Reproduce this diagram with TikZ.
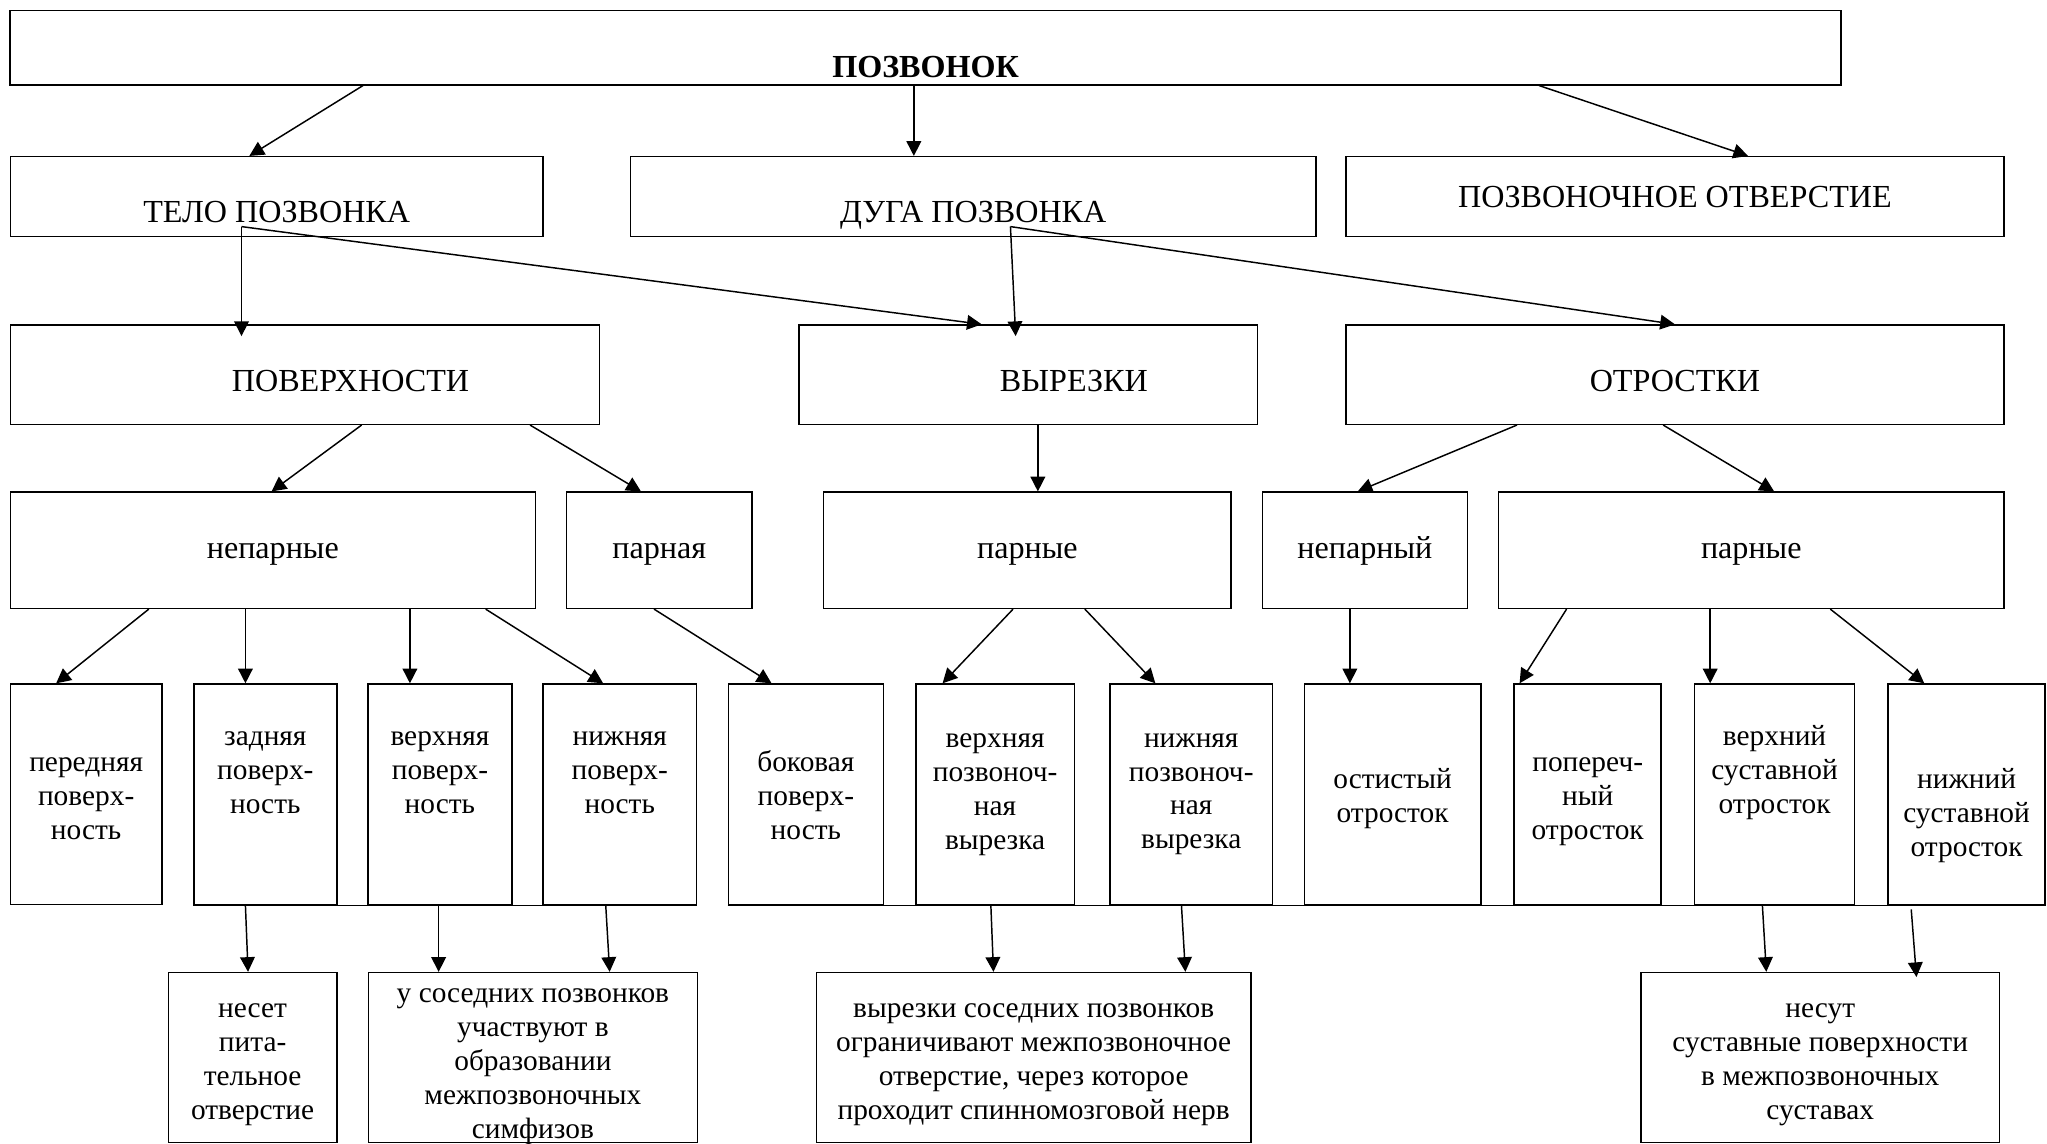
\documentclass[tikz,border=0pt]{standalone}
\usepackage{fontspec}
\setmainfont{Liberation Serif}
\usetikzlibrary{arrows.meta,calc}
\newcommand{\boxtop}{\rule{0pt}{16.5pt}}
\newcommand{\boxbot}{\rule[-4pt]{0pt}{4pt}}

\begin{document}
\begin{tikzpicture}[x=0.025cm,y=-0.025cm,line width=0.8pt,
  >={Triangle[length=8pt,width=8pt]},
  every node/.style={font=\fontsize{16}{18.5}\selectfont},
  box/.style={shape=rectangle,draw,align=center,inner sep=0pt},
  head/.style={box,font=\fontsize{17.5}{20}\selectfont,text depth=0pt},
  every to/.style={line width=1.1pt}]
\useasboundingbox (0,0) rectangle (1568,876);

\path (709,36.5) node (pozv) [head,text height=32pt,minimum width=35.05cm,minimum height=1.425cm] {\textbf{ПОЗВОНОК}};

\path (212,150.5) node (telo) [head,text height=28.5pt,minimum width=10.2cm,minimum height=1.525cm] {ТЕЛО ПОЗВОНКА};
\path (745.5,150.5) node (duga) [head,text height=28.5pt,minimum width=13.125cm,minimum height=1.525cm] {ДУГА ПОЗВОНКА};
\path (1283,150.5) node (otv) [head,text height=11.8pt,minimum width=12.6cm,minimum height=1.525cm] {ПОЗВОНОЧНОЕ ОТВЕРСТИЕ};

\path (233.5,287) node (pov) [head,text height=18.4pt,minimum width=11.275cm,minimum height=1.9cm] {\hspace*{1.75cm}ПОВЕРХНОСТИ};
\path (787.5,287) node (vyr) [head,text height=18.4pt,minimum width=8.775cm,minimum height=1.9cm] {\hspace*{1.75cm}ВЫРЕЗКИ};
\path (1283,287) node (otr) [head,text height=18.4pt,minimum width=12.6cm,minimum height=1.9cm] {ОТРОСТКИ};

\path (209,421.5) node (nep) [head,text height=8.6pt,minimum width=10.05cm,minimum height=2.225cm] {непарные};
\path (505,421.5) node (par) [head,text height=8.6pt,minimum width=3.55cm,minimum height=2.225cm] {парная};
\path (787,421.5) node (parv) [head,text height=8.6pt,minimum width=7.8cm,minimum height=2.225cm] {парные};
\path (1045.5,421.5) node (nepo) [head,text height=8.6pt,minimum width=3.925cm,minimum height=2.225cm] {непарный};
\path (1341.5,421.5) node (paro) [head,text height=8.6pt,minimum width=9.675cm,minimum height=2.225cm] {парные};

\path (66,608.5) node (pered) [box,minimum width=2.9cm,minimum height=4.225cm] {\boxtop передняя\\поверх-\\ность\boxbot};
\path (203.25,608.5) node (zadn) [box,minimum width=2.7375cm,minimum height=4.225cm] {\boxtop задняя\\поверх-\\ность\\[10pt]\mbox{}\boxbot};
\path (337,608.5) node (verh) [box,minimum width=2.75cm,minimum height=4.225cm] {\boxtop верхняя\\поверх-\\ность\\[10pt]\mbox{}\boxbot};
\path (474.75,608.5) node (nizh) [box,minimum width=2.9375cm,minimum height=4.225cm] {\boxtop нижняя\\поверх-\\ность\\[10pt]\mbox{}\boxbot};
\path (617.3,608.5) node (bok) [box,minimum width=2.965cm,minimum height=4.225cm] {\boxtop боковая\\поверх-\\ность\boxbot};
\path (762.25,608.5) node (verhv) [box,minimum width=3.0375cm,minimum height=4.225cm] {верхняя\\позвоноч-\\ная\\вырезка};
\path (912.5,608.5) node (nizhv) [box,minimum width=3.105cm,minimum height=4.225cm] {нижняя\\позвоноч-\\ная\\вырезка};
\path (1066.75,608.5) node (ost) [box,minimum width=3.3775cm,minimum height=4.225cm] {\boxtop остистый\\отросток\boxbot};
\path (1216.15,608.5) node (pop) [box,minimum width=2.8125cm,minimum height=4.225cm] {\boxtop попереч-\\ный\\отросток\boxbot};
\path (1359.3,608.5) node (verhs) [box,minimum width=3.07cm,minimum height=4.225cm] {\boxtop верхний\\суставной\\отросток\\[10pt]\mbox{}\boxbot};
\path (1506.4,608.5) node (nizhs) [box,minimum width=3.005cm,minimum height=4.225cm] {\boxtop\\нижний\\суставной\\отросток\boxbot};

\path (193.5,810) node (neset) [box,minimum width=3.225cm,minimum height=3.25cm] {\boxtop несет\\пита-\\тельное\\отверстие\boxbot};
\path (408.2,810) node (simf) [box,inner ysep=-3pt,minimum width=6.3cm,minimum height=3.25cm] {\rule{0pt}{17.9pt}у соседних позвонков\\участвуют в\\образовании\\межпозвоночных\\симфизов\boxbot};
\path (791.8,810) node (ogr) [box,minimum width=8.325cm,minimum height=3.25cm] {\boxtop вырезки соседних позвонков\\ограничивают межпозвоночное\\отверстие, через которое\\проходит спинномозговой нерв\boxbot};
\path (1394.3,810) node (nesut) [box,minimum width=6.8675cm,minimum height=3.25cm] {\boxtop несут\\суставные поверхности\\в межпозвоночных\\суставах\boxbot};

\draw (zadn.south west) -- (nizh.south east);
\draw (bok.south west) -- (nizhs.south east);

\draw [->] (pozv.south -| 278,0) to (telo.north -| 191,0);
\draw [->] (pozv.south -| 700,0) to (duga.north -| 700,0);
\draw [->] (pozv.south -| 1179,0) to (otv.north -| 1339,0);

\draw [->] ($(telo.south -| 185,0)+(0,-8)$) to ($(pov.north -| 185,0)+(0,9)$);
\draw [->] ($(telo.south -| 185,0)+(0,-8)$) to (vyr.north -| 752,0);
\draw [->] ($(duga.south -| 774,0)+(0,-8)$) to ($(vyr.north -| 778,0)+(0,9)$);
\draw [->] ($(duga.south -| 774,0)+(0,-8)$) to (otr.north -| 1283,0);

\draw [->] (pov.south -| 277,0) to (nep.north -| 208,0);
\draw [->] (pov.south -| 406,0) to (par.north -| 491,0);
\draw [->] (vyr.south -| 795,0) to (parv.north -| 795,0);
\draw [->] (otr.south -| 1162,0) to (nepo.north -| 1040,0);
\draw [->] (otr.south -| 1274,0) to (paro.north -| 1359,0);

\draw [->] (nep.south -| 114,0) to (pered.north -| 43,0);
\draw [->] (nep.south -| 188,0) to (zadn.north -| 188,0);
\draw [->] (nep.south -| 314,0) to (verh.north -| 314,0);
\draw [->] (nep.south -| 372,0) to (nizh.north -| 462,0);
\draw [->] (par.south -| 501,0) to (bok.north -| 591,0);
\draw [->] (parv.south -| 776,0) to (verhv.north -| 722,0);
\draw [->] (parv.south -| 831,0) to (nizhv.north -| 885,0);
\draw [->] (nepo.south -| 1034,0) to (ost.north -| 1034,0);
\draw [->] (paro.south -| 1200,0) to (pop.north -| 1164,0);
\draw [->] (paro.south -| 1310,0) to (verhs.north -| 1310,0);
\draw [->] (paro.south -| 1402,0) to (nizhs.north -| 1474,0);

\draw [->] (zadn.south -| 188,0) to (neset.north -| 190,0);
\draw [->] (verh.south -| 336,0) to (simf.north -| 336,0);
\draw [->] (nizh.south -| 464,0) to (simf.north -| 467,0);
\draw [->] (verhv.south -| 759,0) to (ogr.north -| 761,0);
\draw [->] (nizhv.south -| 905,0) to (ogr.north -| 908,0);
\draw [->] (verhs.south -| 1350,0) to (nesut.north -| 1353,0);
\draw [->] ($(nizhs.south -| 1464,0)+(0,3)$) to ($(nesut.north -| 1468,0)+(0,4)$);
\end{tikzpicture}
\end{document}
